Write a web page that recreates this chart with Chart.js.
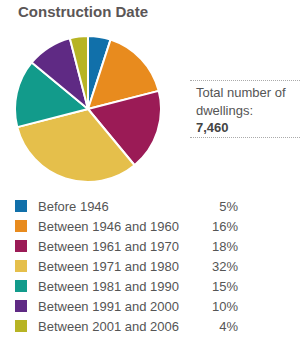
<!DOCTYPE html>
<html lang="en">
<head>
  <meta charset="UTF-8" />
  <title>Construction Date</title>
  <script src="https://cdn.jsdelivr.net/npm/chart.js"></script>
  <style>
    body {
      margin: 0;
      width: 300px;
      height: 340px;
      background: #ffffff;
      font-family: Arial, "Liberation Sans", sans-serif;
      position: relative;
      overflow: hidden;
    }
    h2 {
      position: absolute;
      left: 18px;
      top: 3px;
      margin: 0;
      font-size: 15px;
      font-weight: bold;
      color: #5b5656;
    }
    #pieBox {
      position: absolute;
      left: 14px;
      top: 35px;
      width: 148px;
      height: 148px;
    }
    .total {
      position: absolute;
      left: 190px;
      top: 80px;
      width: 110px;
      border-top: 1px dotted #aaa;
      border-bottom: 1px dotted #aaa;
      padding: 3px 0 0 6px;
      box-sizing: border-box;
      font-size: 13px;
      line-height: 17.5px;
      color: #555;
    }
    .total b { color: #444; }
    #legend {
      position: absolute;
      left: 15px;
      top: 200px;
    }
    .row {
      position: relative;
      height: 20px;
      width: 230px;
      font-size: 13px;
      color: #555;
    }
    .sw {
      position: absolute;
      left: 0;
      top: 0;
      width: 12px;
      height: 12px;
    }
    .lab {
      position: absolute;
      left: 23px;
      top: -1px;
    }
    .pct {
      position: absolute;
      right: 7px;
      top: -1px;
    }
  </style>
</head>
<body>
  <h2>Construction Date</h2>
  <div id="pieBox"><canvas id="pie"></canvas></div>
  <div class="total">Total number of<br>dwellings:<br><b>7,460</b></div>
  <div id="legend"></div>

  <script>
    const categories = [
      'Before 1946',
      'Between 1946 and 1960',
      'Between 1961 and 1970',
      'Between 1971 and 1980',
      'Between 1981 and 1990',
      'Between 1991 and 2000',
      'Between 2001 and 2006'
    ];
    const shares = [5, 16, 18, 32, 15, 10, 4];
    const colors = ['#1170aa', '#e88b1e', '#9b1b56', '#e5bf4b', '#129b8b', '#5f2a84', '#b7b424'];

    // legend rows
    const legend = document.getElementById('legend');
    categories.forEach((c, i) => {
      const row = document.createElement('div');
      row.className = 'row';
      row.innerHTML = '<span class="sw" style="background:' + colors[i] + '"></span>' +
        '<span class="lab">' + c + '</span><span class="pct">' + shares[i] + '%</span>';
      legend.appendChild(row);
    });

    new Chart(document.getElementById('pie'), {
      type: 'pie',
      data: {
        labels: categories,
        datasets: [{
          data: shares,
          backgroundColor: colors,
          borderColor: '#ffffff',
          borderWidth: 2
        }]
      },
      options: {
        responsive: true,
        maintainAspectRatio: false,
        animation: false,
        layout: { padding: 0 },
        plugins: {
          legend: { display: false },
          tooltip: { enabled: false }
        }
      }
    });
  </script>
</body>
</html>
